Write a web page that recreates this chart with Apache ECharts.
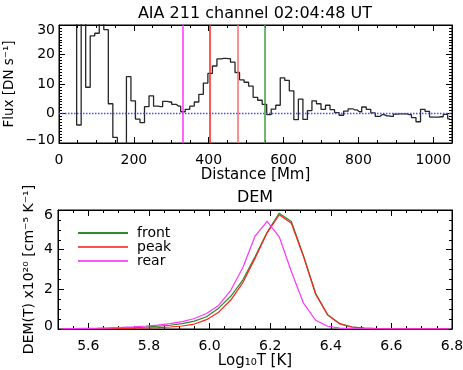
<!DOCTYPE html>
<html><head><meta charset="utf-8">
<script src="https://cdn.jsdelivr.net/npm/echarts@6/dist/echarts.min.js"></script>
<style>html,body{margin:0;padding:0;background:#fff}#c{width:463px;height:370px}</style>
</head><body><div id="c"></div>
<script>
// ---------- data: flux profile (AIA 211) ----------
const distanceMm = [4.8, 16.9, 29.0, 41.1, 53.2, 65.3, 77.3, 89.4, 101.5, 113.6,
  125.7, 137.8, 149.9, 162.0, 174.1, 186.2, 198.2, 210.3, 222.4, 234.5,
  246.6, 258.7, 270.8, 282.9, 295.0, 307.1, 319.1, 331.2, 343.3, 355.4,
  367.5, 379.6, 391.7, 403.8, 415.9, 428.0, 440.0, 452.1, 464.2, 476.3,
  488.4, 500.5, 512.6, 524.7, 536.8, 548.9, 560.9, 573.0, 585.1, 597.2,
  609.3, 621.4, 633.5, 645.6, 657.7, 669.8, 681.8, 693.9, 706.0, 718.1,
  730.2, 742.3, 754.4, 766.5, 778.6, 790.7, 802.7, 814.8, 826.9, 839.0,
  851.1, 863.2, 875.3, 887.4, 899.5, 911.6, 923.6, 935.7, 947.8, 959.9,
  972.0, 984.1, 996.2, 1008.3, 1020.4, 1032.5, 1044.5];
const fluxDN = [40, 45, 42, 38, -3.9, 34, 8.9, 26.3, 27.2, 33,
  28.4, 3.3, -8.1, -14, -15, 12.5, 4.3, -1.9, -3.1, 2.3,
  6.0, 2.5, 2.3, 4.1, 3.9, 3.1, 2.5, 0.6, 1.4, 2.5,
  3.9, 6.5, 10.3, 13.6, 16.1, 18.5, 18.7, 18.6, 17.4, 13.9,
  11.4, 10.6, 9.3, 5.5, 4.5, 3.1, -0.4, 1.5, 2.8, 12.1,
  11.2, 7.7, -2.1, 4.9, -2.0, 1.0, 4.3, 3.3, 1.4, 2.8,
  1.3, 0.3, -0.6, 0.8, 1.6, 1.2, 0.6, 2.2, 1.4, 0.2,
  -1.0, -0.4, -0.8, -1.0, -0.2, -0.1, -0.1, -0.4, -1.4, -2.8,
  1.4, 0.7, -1.2, -1.2, -1.1, -0.3, -1.8];
const markerRear = 331.5;
const markerPeakA = 402.5;
const markerPeakB = 476.4;
const markerFront = 549.0;
const fluxBaseline = 0;

// ---------- data: DEM ----------
const logT = [5.51, 5.55, 5.59, 5.63, 5.67, 5.71, 5.75, 5.79, 5.83, 5.87, 5.91,
  5.95, 5.99, 6.03, 6.07, 6.11, 6.15, 6.19, 6.23, 6.27, 6.31, 6.35, 6.39,
  6.43, 6.47, 6.51, 6.55, 6.59, 6.63, 6.67, 6.71, 6.75, 6.79];
const demFront = [0.01, 0.01, 0.02, 0.02, 0.03, 0.05, 0.07, 0.10, 0.14, 0.19, 0.27,
  0.40, 0.62, 1.05, 1.65, 2.48, 3.64, 4.88, 5.84, 5.42, 3.70, 1.80, 0.72,
  0.27, 0.10, 0.04, 0.02, 0.01, 0.01, 0.01, 0.01, 0.01, 0.01];
const demPeak = [0.01, 0.01, 0.01, 0.01, 0.02, 0.03, 0.04, 0.05, 0.07, 0.10, 0.15,
  0.25, 0.47, 0.85, 1.46, 2.34, 3.56, 4.85, 5.76, 5.33, 3.65, 1.75, 0.70,
  0.25, 0.10, 0.04, 0.02, 0.01, 0.01, 0.01, 0.01, 0.01, 0.01];
const demRear = [0.01, 0.02, 0.03, 0.04, 0.06, 0.08, 0.11, 0.15, 0.20, 0.27, 0.37,
  0.53, 0.78, 1.19, 1.95, 3.10, 4.68, 5.43, 4.65, 2.90, 1.30, 0.44, 0.14,
  0.04, 0.02, 0.01, 0.01, 0.01, 0.01, 0.01, 0.01, 0.01, 0.01];
const logTTicks = [5.6, 5.8, 6.0, 6.2, 6.4, 6.6, 6.8];

const FONT = '"DejaVu Sans", sans-serif';
const BLACK = '#000';

function zip(a, b) { return a.map((x, i) => [x, b[i]]); }
function signed(v) { return v < 0 ? '\u2212' + Math.abs(v) : String(v); }

function baseAxis(o) {
  return Object.assign({
    type: 'value',
    axisLine: { show: true, onZero: false, lineStyle: { color: BLACK, width: 1 } },
    axisTick: { show: true, inside: true, length: 6, lineStyle: { color: BLACK, width: 1 } },
    minorTick: { show: false },
    splitLine: { show: false },
    minorSplitLine: { show: false },
    axisLabel: { show: false },
    nameMoveOverlap: false
  }, o);
}
const hiddenLine = { show: false, onZero: false };
const shortTick = { show: true, inside: true, length: 3, lineStyle: { color: BLACK } };
const labelStyle = { color: BLACK, fontFamily: FONT, fontSize: 14 };
const nameStyle = { color: BLACK, fontFamily: FONT, fontSize: 15 };

const chart = echarts.init(document.getElementById('c'));
chart.setOption({
  animation: false,
  backgroundColor: '#fff',
  grid: [
    { left: 59, right: 11, top: 25, height: 118, show: true, borderColor: BLACK, borderWidth: 1, outerBoundsMode: 'none', containLabel: false },
    { left: 58, right: 11, top: 210, height: 119, show: true, borderColor: BLACK, borderWidth: 1, outerBoundsMode: 'none', containLabel: false }
  ],
  graphic: [
    { type: 'text', x: 255, y: 14, style: { text: 'AIA 211 channel 02:04:48 UT', font: '16px ' + FONT, fill: BLACK, align: 'center', verticalAlign: 'middle' } },
    { type: 'text', x: 255, y: 198, style: { text: 'DEM', font: '16px ' + FONT, fill: BLACK, align: 'center', verticalAlign: 'middle' } }
  ],
  legend: {
    data: ['front', 'peak', 'rear'],
    orient: 'vertical', left: 78, top: 226, padding: 0, itemGap: 0,
    icon: 'rect', itemWidth: 50, itemHeight: 2,
    textStyle: { color: BLACK, fontFamily: FONT, fontSize: 14, padding: [0, 0, 0, 4] }
  },
  xAxis: [
    baseAxis({ gridIndex: 0, position: 'bottom', min: 0, max: 1050, interval: 200,
      axisLabel: Object.assign({ show: true, margin: 10, showMaxLabel: false, formatter: v => String(v) }, labelStyle),
      name: 'Distance [Mm]', nameLocation: 'middle', nameGap: 25, nameTextStyle: nameStyle }),
    baseAxis({ gridIndex: 0, position: 'top', min: 0, max: 1050, interval: 200 }),
    baseAxis({ gridIndex: 0, position: 'bottom', min: 0, max: 1050, interval: 50, axisLine: hiddenLine, axisTick: shortTick }),
    baseAxis({ gridIndex: 0, position: 'top', min: 0, max: 1050, interval: 50, axisLine: hiddenLine, axisTick: shortTick }),
    baseAxis({ gridIndex: 1, position: 'bottom', min: 5.5, max: 6.8,
      axisTick: { show: true, inside: true, length: 6, customValues: logTTicks, lineStyle: { color: BLACK } },
      axisLabel: Object.assign({ show: true, margin: 10, customValues: logTTicks, formatter: v => v.toFixed(1) }, labelStyle),
      name: 'Log\u2081\u2080T [K]', nameLocation: 'middle', nameGap: 25, nameTextStyle: nameStyle }),
    baseAxis({ gridIndex: 1, position: 'top', min: 5.5, max: 6.8,
      axisTick: { show: true, inside: true, length: 6, customValues: logTTicks, lineStyle: { color: BLACK } } }),
    baseAxis({ gridIndex: 1, position: 'bottom', min: 5.5, max: 6.8, interval: 0.05, axisLine: hiddenLine, axisTick: shortTick }),
    baseAxis({ gridIndex: 1, position: 'top', min: 5.5, max: 6.8, interval: 0.05, axisLine: hiddenLine, axisTick: shortTick })
  ],
  yAxis: [
    baseAxis({ gridIndex: 0, position: 'left', min: -10, max: 30, interval: 10,
      minorTick: { show: true, splitNumber: 10, length: 3, lineStyle: { color: BLACK } },
      axisLabel: Object.assign({ show: true, margin: 4,
        formatter: v => v === 30 ? '{t|' + signed(v) + '}' : (v === -10 ? '{b|' + signed(v) + '}' : signed(v)),
        rich: { t: { padding: [10, 0, 0, 0], fontFamily: FONT, fontSize: 14, color: BLACK }, b: { padding: [0, 0, 6, 0], fontFamily: FONT, fontSize: 14, color: BLACK } } }, labelStyle),
      name: 'Flux [DN s\u207B\u00B9]', nameLocation: 'middle', nameGap: 43,
      nameTextStyle: Object.assign({}, nameStyle, { fontSize: 13.5 }) }),
    baseAxis({ gridIndex: 0, position: 'right', min: -10, max: 30, interval: 10,
      minorTick: { show: true, splitNumber: 10, length: 3, lineStyle: { color: BLACK } } }),
    baseAxis({ gridIndex: 1, position: 'left', min: 0, max: 6, interval: 2,
      minorTick: { show: true, splitNumber: 4, length: 3, lineStyle: { color: BLACK } },
      axisLabel: Object.assign({ show: true, margin: 5,
        formatter: v => v === 6 ? '{t|6}' : (v === 0 ? '{b|0}' : String(v)),
        rich: { t: { padding: [10, 0, 0, 0], fontFamily: FONT, fontSize: 14, color: BLACK }, b: { padding: [0, 0, 5, 0], fontFamily: FONT, fontSize: 14, color: BLACK } } }, labelStyle),
      name: 'DEM(T) x10\u00B2\u2070 [cm\u207B\u2075 K\u207B\u00B9]', nameLocation: 'middle', nameGap: 22,
      nameTextStyle: Object.assign({}, nameStyle, { fontSize: 14 }) }),
    baseAxis({ gridIndex: 1, position: 'right', min: 0, max: 6, interval: 2,
      minorTick: { show: true, splitNumber: 4, length: 3, lineStyle: { color: BLACK } } })
  ],
  series: [
    {
      type: 'line', name: 'flux', xAxisIndex: 0, yAxisIndex: 0, step: 'middle',
      data: zip(distanceMm, fluxDN), showSymbol: false, symbol: 'none', clip: true, z: 3,
      lineStyle: { color: '#262626', width: 1.3 }, itemStyle: { color: '#262626' },
      markLine: {
        silent: true, symbol: ['none', 'none'], label: { show: false }, animation: false, z: 4,
        data: [
          { yAxis: fluxBaseline, lineStyle: { color: '#4a4aff', type: [1.5, 1.5], width: 1.3, opacity: 1 } },
          { xAxis: markerRear, lineStyle: { color: '#ff33ff', type: 'solid', width: 1.5 } },
          { xAxis: markerPeakA, lineStyle: { color: '#ff2020', type: 'solid', width: 1.5 } },
          { xAxis: markerPeakB, lineStyle: { color: '#ff6a6a', type: 'solid', width: 1.5 } },
          { xAxis: markerFront, lineStyle: { color: '#3ca03c', type: 'solid', width: 1.5 } }
        ]
      }
    },
    { type: 'line', name: 'front', xAxisIndex: 4, yAxisIndex: 2, data: zip(logT, demFront), showSymbol: false, symbol: 'none',
      lineStyle: { color: '#2a8c2a', width: 1.2 }, itemStyle: { color: '#2a8c2a' } },
    { type: 'line', name: 'peak', xAxisIndex: 4, yAxisIndex: 2, data: zip(logT, demPeak), showSymbol: false, symbol: 'none',
      lineStyle: { color: '#ff2020', width: 1.2 }, itemStyle: { color: '#ff5050' } },
    { type: 'line', name: 'rear', xAxisIndex: 4, yAxisIndex: 2, data: zip(logT, demRear), showSymbol: false, symbol: 'none',
      lineStyle: { color: '#ff33ff', width: 1.2 }, itemStyle: { color: '#ff55ff' } }
  ]
});
</script></body></html>
